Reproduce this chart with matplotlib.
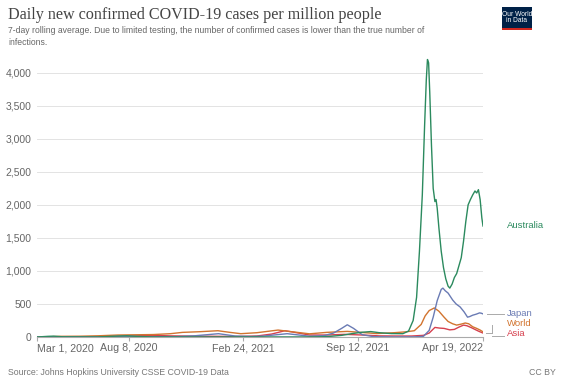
import numpy as np
import pandas as pd
import matplotlib
matplotlib.use("Agg")
from matplotlib import pyplot as plt
import matplotlib.dates as mdates
from matplotlib.lines import Line2D
from matplotlib.patches import Rectangle

# values (cases per million, 7-day average)
aus_dates = ["2020-03-01", "2020-03-20", "2020-03-30", "2020-04-15", "2020-06-15", "2020-07-20",
             "2020-08-05", "2020-08-25", "2020-09-20", "2021-01-01", "2021-06-20", "2021-07-20",
             "2021-08-15", "2021-09-05", "2021-09-20", "2021-10-05", "2021-10-20", "2021-11-10",
             "2021-11-30", "2021-12-10", "2021-12-18", "2021-12-24", "2021-12-29", "2022-01-03",
             "2022-01-07", "2022-01-10", "2022-01-12", "2022-01-14", "2022-01-16", "2022-01-19",
             "2022-01-22", "2022-01-25", "2022-01-27", "2022-01-29", "2022-02-01", "2022-02-05",
             "2022-02-09", "2022-02-13", "2022-02-17", "2022-02-20", "2022-02-24", "2022-02-28",
             "2022-03-04", "2022-03-08", "2022-03-12", "2022-03-16", "2022-03-20", "2022-03-24",
             "2022-03-28", "2022-04-01", "2022-04-05", "2022-04-08", "2022-04-11", "2022-04-14",
             "2022-04-17", "2022-04-19"]
aus_vals = [0, 10, 13, 3, 1, 14,
            18, 8, 1, 1, 1, 5,
            25, 55, 72, 82, 65, 52,
            50, 90, 250, 600, 1300, 2150,
            3200, 3900, 4200, 4150, 3700, 2900,
            2250, 2050, 2080, 1950, 1650, 1300,
            1050, 880, 770, 740, 800, 900,
            960, 1080, 1200, 1450, 1750, 2000,
            2080, 2150, 2210, 2180, 2230, 2080,
            1800, 1680]

jpn_dates = ["2020-03-01", "2020-04-15", "2020-06-01", "2020-08-05", "2020-09-15", "2020-11-01",
             "2020-12-01", "2021-01-12", "2021-02-10", "2021-03-10", "2021-04-01", "2021-05-12",
             "2021-06-20", "2021-07-15", "2021-08-01", "2021-08-15", "2021-08-25", "2021-09-05",
             "2021-09-20", "2021-10-10", "2021-11-15", "2021-12-20", "2022-01-05", "2022-01-15",
             "2022-01-22", "2022-01-29", "2022-02-05", "2022-02-08", "2022-02-12", "2022-02-17",
             "2022-02-25", "2022-03-03", "2022-03-10", "2022-03-17", "2022-03-23", "2022-03-27",
             "2022-04-01", "2022-04-07", "2022-04-13", "2022-04-16", "2022-04-19"]
jpn_vals = [0, 4, 0.5, 10, 4, 6,
            18, 50, 15, 8, 15, 50,
            12, 20, 60, 130, 185, 130,
            35, 5, 1, 2, 10, 100,
            300, 550, 720, 740, 700, 665,
            560, 500, 455, 380, 300, 310,
            330, 345, 365, 360, 350]

wld_dates = ["2020-03-01", "2020-03-25", "2020-04-10", "2020-05-15", "2020-06-15", "2020-07-20",
             "2020-08-15", "2020-09-20", "2020-10-20", "2020-11-10", "2020-12-10", "2021-01-11",
             "2021-02-01", "2021-02-20", "2021-03-20", "2021-04-26", "2021-05-15", "2021-06-20",
             "2021-07-20", "2021-08-25", "2021-09-25", "2021-10-15", "2021-11-15", "2021-12-05",
             "2021-12-20", "2022-01-01", "2022-01-08", "2022-01-15", "2022-01-24", "2022-02-01",
             "2022-02-10", "2022-02-17", "2022-02-25", "2022-03-04", "2022-03-12", "2022-03-19",
             "2022-03-25", "2022-04-01", "2022-04-08", "2022-04-14", "2022-04-19"]
wld_vals = [0.3, 4, 10, 12, 18, 30,
            33, 37, 50, 70, 80, 95,
            70, 50, 65, 105, 85, 48,
            70, 85, 65, 52, 65, 78,
            95, 190, 320, 400, 440, 390,
            300, 235, 200, 180, 195, 212,
            200, 155, 130, 105, 78]

asia_dates = ["2020-03-01", "2020-04-15", "2020-06-01", "2020-07-15", "2020-08-20", "2020-09-18",
              "2020-10-20", "2020-12-01", "2021-01-15", "2021-02-15", "2021-03-20", "2021-04-15",
              "2021-05-08", "2021-05-25", "2021-06-20", "2021-07-20", "2021-08-20", "2021-09-20",
              "2021-10-20", "2021-11-20", "2021-12-15", "2022-01-05", "2022-01-15", "2022-01-25",
              "2022-02-02", "2022-02-10", "2022-02-20", "2022-02-28", "2022-03-08", "2022-03-16",
              "2022-03-22", "2022-03-30", "2022-04-06", "2022-04-12", "2022-04-19"]
asia_vals = [0.5, 2, 5, 10, 17, 25,
             17, 13, 10, 8, 15, 45,
             95, 70, 30, 30, 40, 30,
             17, 15, 15, 25, 60, 145,
             135, 130, 108, 115, 150, 180,
             170, 140, 110, 85, 60]

series = [
    ("Australia", aus_dates, aus_vals, "#2b8a5e"),
    ("Japan", jpn_dates, jpn_vals, "#6a7bb4"),
    ("World", wld_dates, wld_vals, "#d2742f"),
    ("Asia", asia_dates, asia_vals, "#d6404f"),
]
tick_dates = ["2020-03-01", "2020-08-08", "2021-02-24", "2021-09-12", "2022-04-19"]
tick_labels = ["Mar 1, 2020", "Aug 8, 2020", "Feb 24, 2021", "Sep 12, 2021", "Apr 19, 2022"]
yticks = [0, 500, 1000, 1500, 2000, 2500, 3000, 3500, 4000]

plt.rcParams['font.family'] = ['Liberation Sans', 'DejaVu Sans']

W, H = 566, 387
fig = plt.figure(figsize=(W / 100, H / 100), dpi=100)
ax = fig.add_axes([37 / W, 1 - 337 / H, (483 - 37) / W, (337 - 52.9) / H])

# draw in reverse so Australia sits on top
for name, d, v, c in series[::-1]:
    ax.plot(pd.to_datetime(d), v, color=c, lw=1.0, solid_joinstyle="round")

ax.set_xlim(pd.Timestamp("2020-03-01"), pd.Timestamp("2022-04-19"))
ax.set_ylim(0, 4300)
ax.set_yticks(yticks)
ax.set_yticklabels(["{:,}".format(t) for t in yticks])
ax.grid(axis="y", color="#e3e3e3", lw=0.7)
ax.set_axisbelow(True)
for s in ["top", "right", "left"]:
    ax.spines[s].set_visible(False)
ax.spines["bottom"].set_color("#aaaaaa")
ax.spines["bottom"].set_linewidth(0.8)
ax.tick_params(axis="y", length=0, pad=4, labelsize=7.5, labelcolor="#666666")
ax.tick_params(axis="x", length=3, color="#aaaaaa", pad=1.5, labelsize=7.7, labelcolor="#666666")

ax.set_xticks(pd.to_datetime(tick_dates))
ax.set_xticklabels(tick_labels)
xl = ax.get_xticklabels()
xl[0].set_ha("left")
xl[-1].set_ha("right")

# series labels on the right
lab_y = {"Australia": 226, "Japan": 313, "World": 323, "Asia": 333}
for name, d, v, c in series:
    fig.text(507 / W, 1 - lab_y[name] / H, name, color=c, fontsize=6.8, va="center", ha="left")

grey = "#aaaaaa"
def pline(xs, ys):
    fig.add_artist(Line2D([x / W for x in xs], [1 - y / H for y in ys], color=grey, lw=0.7))

pline([487, 504], [313.5, 313.5])
pline([492, 492], [325, 333])
pline([486, 492], [333, 333])
pline([492, 504], [336, 336])

# title block
fig.text(8 / W, 1 - 19 / H, "Daily new confirmed COVID-19 cases per million people",
         family=["Liberation Serif", "DejaVu Serif"], fontsize=11.6, color="#444444", va="baseline")
fig.text(8 / W, 1 - 33 / H,
         "7-day rolling average. Due to limited testing, the number of confirmed cases is lower than the true number of",
         fontsize=6.2, color="#666666", va="baseline")
fig.text(8 / W, 1 - 45 / H, "infections.", fontsize=6.2, color="#666666", va="baseline")

# logo
fig.add_artist(Rectangle((502 / W, 1 - 30 / H), 30 / W, 23 / H, facecolor="#002147", edgecolor="none"))
fig.add_artist(Rectangle((502 / W, 1 - 30 / H), 30 / W, 2 / H, facecolor="#ce261e", edgecolor="none"))
fig.text(517 / W, 1 - 14 / H, "Our World", color="white", fontsize=4.8, ha="center", va="center")
fig.text(517 / W, 1 - 21 / H, "in Data", color="white", fontsize=4.8, ha="center", va="center")

# footer
fig.text(8 / W, 1 - 375 / H, "Source: Johns Hopkins University CSSE COVID-19 Data",
         fontsize=6.3, color="#777777", va="baseline")
fig.text(556 / W, 1 - 375 / H, "CC BY", fontsize=6.3, color="#777777", va="baseline", ha="right")

fig.savefig("out.png", dpi=100)
